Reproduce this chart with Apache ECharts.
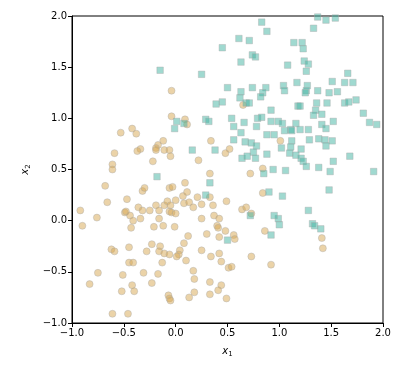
<!DOCTYPE html>
<html>
<head>
<meta charset="utf-8">
<script src="https://cdn.jsdelivr.net/npm/echarts@6/dist/echarts.min.js"></script>
<style>
  html, body { margin: 0; padding: 0; background: #fff; }
  #chart { width: 404px; height: 377px; }
</style>
</head>
<body>
<div id="chart"></div>
<script>
// class 0 (circles)
const circlePoints = [
  [-0.04, 1.27], [-0.04, 1.02], [-0.53, 0.86], [-0.42, 0.90], [-0.38, 0.85],
  [-0.12, 0.78], [-0.17, 0.74], [-0.19, 0.71], [-0.19, 0.69], [-0.11, 0.69],
  [-0.06, 0.69], [-0.05, 0.63], [-0.34, 0.70], [-0.37, 0.68], [-0.59, 0.66],
  [-0.22, 0.58], [-0.61, 0.55], [-0.61, 0.50], [0.09, 0.99], [0.11, 0.94],
  [0.65, 1.13], [0.34, 0.78], [0.52, 0.70], [0.48, 0.66], [0.22, 0.59],
  [1.01, 0.78], [0.84, 0.51], [1.41, -0.17], [1.42, -0.27], [0.33, 0.46],
  [0.72, 0.46], [0.09, 0.37], [0.07, 0.24], [0.11, 0.28], [0.08, 0.17],
  [0.13, 0.18], [0.17, 0.13], [0.21, 0.23], [0.25, 0.16], [0.33, 0.23],
  [0.36, 0.15], [0.49, 0.19], [0.64, 0.11], [0.68, 0.13], [0.73, 0.07],
  [0.84, 0.27], [0.25, 0.02], [0.37, 0.05], [0.42, 0.02], [0.40, -0.05],
  [0.41, -0.07], [0.48, -0.10], [0.30, -0.13], [0.42, -0.16], [0.56, -0.14],
  [0.57, -0.18], [0.86, -0.10], [0.12, -0.15], [0.08, -0.22], [0.04, -0.29],
  [0.03, -0.33], [0.01, -0.35], [0.25, -0.29], [0.34, -0.35], [0.42, -0.32],
  [0.10, -0.39], [0.44, -0.40], [0.51, -0.46], [0.54, -0.45], [0.73, -0.35],
  [0.92, -0.43], [0.17, -0.49], [0.18, -0.57], [0.33, -0.60], [0.44, -0.63],
  [0.41, -0.68], [0.33, -0.72], [0.18, -0.70], [0.13, -0.75], [0.49, -0.76],
  [-0.68, 0.34], [-0.32, 0.29], [-0.30, 0.32], [-0.06, 0.32], [-0.03, 0.33],
  [-0.66, 0.18], [-0.47, 0.21], [-0.92, 0.10], [-0.76, 0.03], [-0.90, -0.05],
  [-0.49, 0.08], [-0.48, 0.09], [-0.44, 0.05], [-0.41, 0.00], [-0.43, -0.07],
  [-0.36, 0.13], [-0.32, 0.10], [-0.34, 0.02], [-0.25, 0.10], [-0.19, 0.15],
  [-0.16, 0.10], [-0.11, 0.15], [-0.08, 0.19], [-0.05, 0.15], [0.00, 0.20],
  [-0.06, 0.09], [-0.04, 0.08], [0.00, 0.07], [-0.16, 0.02], [-0.21, -0.06],
  [-0.12, -0.05], [-0.01, -0.06], [-0.23, -0.23], [-0.28, -0.30], [-0.15, -0.25],
  [-0.16, -0.30], [-0.11, -0.32], [-0.06, -0.33], [-0.45, -0.26], [-0.62, -0.28],
  [-0.59, -0.30], [-0.13, -0.41], [-0.45, -0.41], [-0.41, -0.41], [-0.31, -0.51],
  [-0.17, -0.52], [-0.75, -0.51], [-0.51, -0.53], [-0.83, -0.62], [-0.23, -0.61],
  [-0.42, -0.63], [-0.40, -0.69], [-0.52, -0.69], [-0.07, -0.73], [-0.06, -0.76],
  [-0.05, -0.78], [-0.61, -0.91], [-0.46, -0.91]
];

// class 1 (squares)
const squarePoints = [
  [-0.15, 1.47], [0.01, 0.97], [-0.01, 0.90], [0.08, 0.95], [0.83, 1.94],
  [0.88, 1.85], [0.61, 1.78], [0.71, 1.76], [0.45, 1.69], [0.74, 1.62],
  [0.77, 1.60], [0.63, 1.55], [0.25, 1.43], [0.50, 1.30], [0.63, 1.26],
  [0.74, 1.30], [0.87, 1.30], [0.84, 1.25], [0.82, 1.21], [0.62, 1.20],
  [0.45, 1.16], [0.39, 1.14], [0.68, 1.15], [0.71, 1.15], [0.92, 1.08],
  [0.54, 1.00], [0.29, 0.99], [0.32, 0.97], [0.66, 0.96], [0.79, 1.00],
  [0.83, 1.01], [0.92, 0.97], [0.99, 0.97], [0.56, 0.92], [0.78, 0.92],
  [0.63, 0.86], [0.88, 0.84], [0.95, 0.84], [0.56, 0.79], [0.67, 0.77],
  [0.73, 0.76], [0.78, 0.73], [0.16, 0.69], [0.38, 0.69], [0.75, 0.67],
  [0.64, 0.61], [0.69, 0.63], [0.77, 0.61], [0.88, 0.65], [1.02, 0.71],
  [0.94, 0.50], [1.37, 1.99], [1.45, 1.96], [1.54, 1.98], [1.33, 1.88],
  [1.14, 1.74], [1.22, 1.74], [1.23, 1.68], [1.08, 1.52], [1.24, 1.56],
  [1.28, 1.53], [1.26, 1.46], [1.66, 1.44], [1.51, 1.36], [1.63, 1.35],
  [1.71, 1.35], [1.04, 1.32], [1.05, 1.27], [1.17, 1.35], [1.27, 1.32],
  [1.26, 1.27], [1.25, 1.25], [1.37, 1.27], [1.48, 1.25], [1.56, 1.26],
  [1.18, 1.12], [1.20, 1.12], [1.36, 1.15], [1.46, 1.15], [1.63, 1.15],
  [1.67, 1.16], [1.74, 1.18], [1.35, 1.08], [1.33, 1.03], [1.41, 1.04],
  [1.81, 1.05], [1.52, 0.97], [1.87, 0.96], [1.94, 0.94], [1.16, 0.95],
  [1.11, 0.89], [1.12, 0.88], [1.20, 0.89], [1.28, 0.89], [1.41, 0.94],
  [1.45, 0.90], [1.03, 0.95], [1.05, 0.88], [1.29, 0.79], [1.38, 0.80],
  [1.44, 0.79], [1.51, 0.78], [1.12, 0.78], [1.11, 0.72], [1.21, 0.70],
  [1.45, 0.73], [1.10, 0.66], [1.16, 0.64], [1.21, 0.61], [1.23, 0.58],
  [1.68, 0.63], [1.52, 0.58], [1.26, 0.53], [1.38, 0.52], [1.49, 0.48],
  [1.91, 0.48], [1.06, 0.49], [1.03, 0.24], [1.48, 0.30], [1.28, 0.10],
  [0.99, 0.02], [1.00, -0.04], [1.32, -0.03], [1.34, -0.05], [1.40, -0.08],
  [-0.18, 0.43], [0.33, 0.37], [0.29, 0.25], [0.50, -0.19], [0.72, 0.05],
  [0.85, 0.46], [0.90, 0.28], [0.95, 0.05], [0.92, -0.14]
];

const xTicks = [-1.0, -0.5, 0.0, 0.5, 1.0, 1.5, 2.0];
const yTicks = [-1.0, -0.5, 0.0, 0.5, 1.0, 1.5, 2.0];

const font = "DejaVu Sans";
const fmt = v => (v < 0 ? "\u2212" : "") + Math.abs(v).toFixed(1);

const axisCommon = {
  type: "value",
  min: -1,
  max: 2,
  interval: 0.5,
  axisLine: { show: true, onZero: false, lineStyle: { color: "#000", width: 1 } },
  axisTick: { show: true, length: 4, lineStyle: { color: "#000" } },
  splitLine: { show: false },
  axisLabel: { color: "#000", fontFamily: font, fontSize: 10, margin: 5, formatter: fmt },
  nameLocation: "middle",
  nameTextStyle: {
    color: "#000",
    fontFamily: font,
    rich: {
      v: { fontFamily: font, fontStyle: "italic", fontSize: 10, color: "#000" },
      s: { fontFamily: font, fontSize: 7, color: "#000", verticalAlign: "bottom", padding: [6, 0, 0, 0] }
    }
  }
};

const chart = echarts.init(document.getElementById("chart"));
chart.setOption({
  animation: false,
  backgroundColor: "#fff",
  grid: {
    left: 72, top: 16, width: 311, height: 307,
    show: true, borderColor: "#000", borderWidth: 1
  },
  xAxis: Object.assign({}, axisCommon, {
    name: "{v|x}{s|1}",
    nameGap: 22,
    axisLabel: Object.assign({}, axisCommon.axisLabel, { customValues: xTicks })
  }),
  yAxis: Object.assign({}, axisCommon, {
    name: "{v|x}{s|2}",
    nameGap: 40,
    nameRotate: 90,
    axisLabel: Object.assign({}, axisCommon.axisLabel, { customValues: yTicks })
  }),
  series: [
    {
      type: "scatter",
      data: circlePoints,
      symbol: "circle",
      symbolSize: 7,
      itemStyle: { color: "#d8a852", borderColor: "#aaa", borderWidth: 0.8, opacity: 0.5 }
    },
    {
      type: "scatter",
      data: squarePoints,
      symbol: "rect",
      symbolSize: 6.5,
      itemStyle: { color: "#42b3a1", borderColor: "#aaa", borderWidth: 0.8, opacity: 0.5 }
    }
  ]
});
</script>
</body>
</html>
